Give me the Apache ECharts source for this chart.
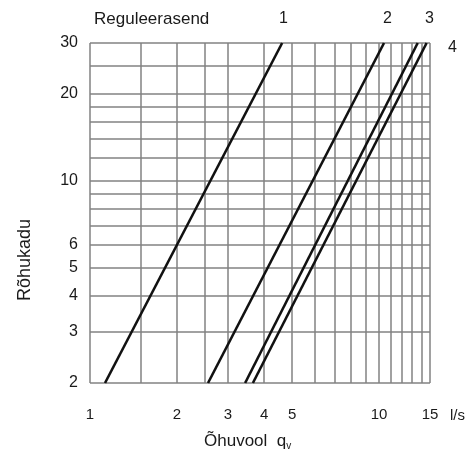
<!DOCTYPE html>
<html><head><meta charset="utf-8">
<script src="https://cdn.jsdelivr.net/npm/echarts@6/dist/echarts.min.js"></script>
<style>html,body{margin:0;padding:0;background:#fff}#c{width:476px;height:455px}</style>
</head><body><div id="c"></div>
<script>
const xGrid = [1, 1.5, 2, 2.5, 3, 4, 5, 6, 7, 8, 9, 10, 11, 12, 13, 14, 15];
const xLabels = [1, 2, 3, 4, 5, 10, 15];
const yGrid = [2, 3, 4, 5, 6, 7, 8, 9, 10, 12, 14, 16, 18, 20, 25, 30];
const yLabels = [2, 3, 4, 5, 6, 10, 20, 30];
const seriesNames = ['1', '2', '3', '4'];
const line1 = [[1.127, 2], [4.62, 30]];
const line2 = [[2.56, 2], [10.4, 30]];
const line3 = [[3.44, 2], [13.6, 30]];
const line4 = [[3.66, 2], [14.6, 30]];
const lines = [line1, line2, line3, line4];

const font = 'Liberation Sans, Arial, sans-serif';
const ink = '#1a1a1a';
const chart = echarts.init(document.getElementById('c'));
chart.setOption({
  animation: false,
  grid: { left: 90, top: 43, width: 340, height: 340, containLabel: false },
  xAxis: {
    type: 'log', logBase: 10, min: 1, max: 15,
    axisLine: { show: false },
    axisTick: { show: false, customValues: xGrid },
    axisLabel: { customValues: xLabels, margin: 24, color: ink, fontFamily: font, fontSize: 15, formatter: v => String(Math.round(v)) },
    splitLine: { show: true, lineStyle: { color: '#828282', width: 1.5 } }
  },
  yAxis: {
    type: 'log', logBase: 10, min: 2, max: 30,
    axisLine: { show: false },
    axisTick: { show: false, customValues: yGrid },
    axisLabel: { customValues: yLabels, margin: 12, color: ink, fontFamily: font, fontSize: 16, formatter: v => String(Math.round(v)) },
    splitLine: { show: true, lineStyle: { color: '#828282', width: 1.5 } }
  },
  series: lines.map((d, i) => ({
    name: seriesNames[i], type: 'line', data: d, symbol: 'none',
    lineStyle: { color: '#111', width: 2.6 }
  })),
  graphic: [
    { type: 'text', left: 94, top: 11, style: { text: 'Reguleerasend', font: '17px ' + font, fill: ink } },
    { type: 'text', left: 279, top: 11, style: { text: seriesNames[0], font: '16px ' + font, fill: ink } },
    { type: 'text', left: 383, top: 11, style: { text: seriesNames[1], font: '16px ' + font, fill: ink } },
    { type: 'text', left: 425, top: 11, style: { text: seriesNames[2], font: '16px ' + font, fill: ink } },
    { type: 'text', left: 448, top: 40, style: { text: seriesNames[3], font: '16px ' + font, fill: ink } },
    { type: 'text', left: 450, top: 408, style: { text: 'l/s', font: '15px ' + font, fill: ink } },
    { type: 'text', x: 25, y: 260, rotation: Math.PI / 2, style: { text: 'Rõhukadu', font: '18px ' + font, fill: ink, align: 'center', verticalAlign: 'middle' } },
    { type: 'text', left: 204, top: 433, style: { text: '{a|Õhuvool  q}{s|v}', rich: { a: { font: '17px ' + font, fill: ink }, s: { font: '10px ' + font, fill: ink, padding: [9, 0, 0, 0] } } } }
  ]
});
</script></body></html>
